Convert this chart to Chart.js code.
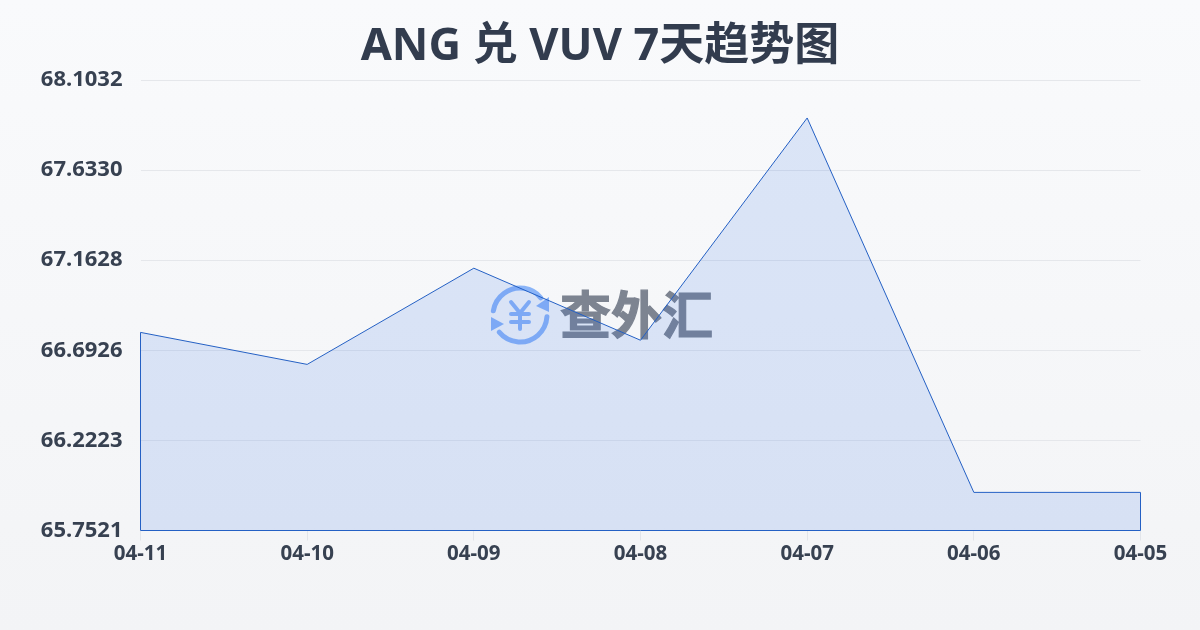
<!DOCTYPE html>
<html>
<head>
<meta charset="utf-8">
<script src="https://cdn.jsdelivr.net/npm/chart.js@4"></script>
<style>
  html, body { margin: 0; padding: 0; }
  body { width: 1200px; height: 630px; overflow: hidden; background: linear-gradient(180deg, #f9fafc 0%, #f3f4f6 100%); }
  #wrap { position: relative; width: 1200px; height: 630px; }
</style>
</head>
<body>
<div id="wrap"><canvas id="rateChart" width="1200" height="630"></canvas></div>
<script>
const titleText = "ANG 兑 VUV 7天趋势图";
const dates = ["04-11", "04-10", "04-09", "04-08", "04-07", "04-06", "04-05"];
const rates = [66.786, 66.619, 67.121, 66.745, 67.905, 65.951, 65.951];
const yTicks = [65.7521, 66.2223, 66.6926, 67.1628, 67.6330, 68.1032];

const fontFamily = "'Noto Sans', 'Noto Sans CJK SC', sans-serif";
const lineColor = "#2460c4";

// Title, closed area outline and the watermark under the series
const areaPlugin = {
  id: "areaPlugin",
  beforeDatasetsDraw(chart) {
    const ctx = chart.ctx;
    ctx.save();
    ctx.fillStyle = "#323c4e";
    ctx.font = "700 45px " + fontFamily;
    ctx.textAlign = "center";
    ctx.textBaseline = "middle";
    ctx.fillText(titleText, 600, 47);

    const cx = 520, cy = 315;
    ctx.strokeStyle = "#8ab4f8";
    ctx.fillStyle = "#8ab4f8";
    ctx.lineWidth = 5;
    ctx.lineCap = "round";
    ctx.beginPath();
    ctx.arc(cx, cy, 27, Math.PI * 1.05, Math.PI * 1.78);
    ctx.stroke();
    ctx.beginPath();
    ctx.arc(cx, cy, 27, Math.PI * 0.02, Math.PI * 0.78);
    ctx.stroke();
    ctx.beginPath();
    ctx.moveTo(549, 297); ctx.lineTo(549, 312); ctx.lineTo(536, 306); ctx.closePath();
    ctx.fill();
    ctx.beginPath();
    ctx.moveTo(491, 317); ctx.lineTo(491, 331); ctx.lineTo(504, 324); ctx.closePath();
    ctx.fill();
    ctx.lineWidth = 4;
    ctx.beginPath();
    ctx.moveTo(511, 302); ctx.lineTo(520, 313); ctx.lineTo(529, 302);
    ctx.moveTo(520, 313); ctx.lineTo(520, 329);
    ctx.moveTo(511, 314); ctx.lineTo(529, 314);
    ctx.moveTo(511, 322); ctx.lineTo(529, 322);
    ctx.stroke();
    ctx.fillStyle = "#7d8491";
    ctx.strokeStyle = "#7d8491";
    ctx.lineWidth = 1.2;
    ctx.font = "700 51px 'Noto Sans CJK SC'";
    ctx.textAlign = "left";
    ctx.fillText("查外汇", 560, 315);
    ctx.strokeText("查外汇", 560, 315);
    ctx.restore();
  },
  afterDatasetsDraw(chart) {
    const { ctx, scales } = chart;
    const left = scales.x.getPixelForValue(0);
    const right = scales.x.getPixelForValue(dates.length - 1);
    const bottom = scales.y.getPixelForValue(yTicks[0]);
    ctx.save();
    ctx.strokeStyle = lineColor;
    ctx.lineWidth = 1;
    ctx.beginPath();
    ctx.moveTo(left, scales.y.getPixelForValue(rates[0]));
    ctx.lineTo(left, bottom);
    ctx.lineTo(right, bottom);
    ctx.lineTo(right, scales.y.getPixelForValue(rates[rates.length - 1]));
    ctx.stroke();
    ctx.restore();
  },
};

new Chart(document.getElementById("rateChart"), {
  type: "line",
  data: {
    labels: dates,
    datasets: [{
      data: rates,
      borderColor: lineColor,
      borderWidth: 1,
      backgroundColor: "rgba(50, 110, 230, 0.145)",
      fill: "start",
      tension: 0,
      pointRadius: 0,
    }],
  },
  options: {
    responsive: false,
    animation: false,
    layout: { padding: { left: 0, right: 59.5, top: 80, bottom: 0 } },
    plugins: {
      legend: { display: false },
      tooltip: { enabled: false },
      title: { display: false },
    },
    scales: {
      x: {
        offset: false,
        afterFit(scale) { scale.height = 99.5; },
        border: { display: false },
        grid: { drawOnChartArea: false, drawTicks: true, tickLength: 10, color: "#e2e5ea" },
        ticks: {
          color: "#374151",
          font: { family: fontFamily, size: 20.5, weight: "700" },
          padding: 1,
          maxRotation: 0,
          autoSkip: false,
        },
      },
      y: {
        min: yTicks[0],
        max: yTicks[yTicks.length - 1],
        afterFit(scale) { scale.width = 140.5; },
        afterBuildTicks(scale) { scale.ticks = yTicks.map((value) => ({ value })); },
        border: { display: false },
        grid: { drawTicks: false, color: "#e5e7eb" },
        ticks: {
          color: "#374151",
          padding: 18,
          font: { family: fontFamily, size: 22, weight: "700" },
          callback: (value) => value.toFixed(4),
        },
      },
    },
  },
  plugins: [areaPlugin],
});
</script>
</body>
</html>
